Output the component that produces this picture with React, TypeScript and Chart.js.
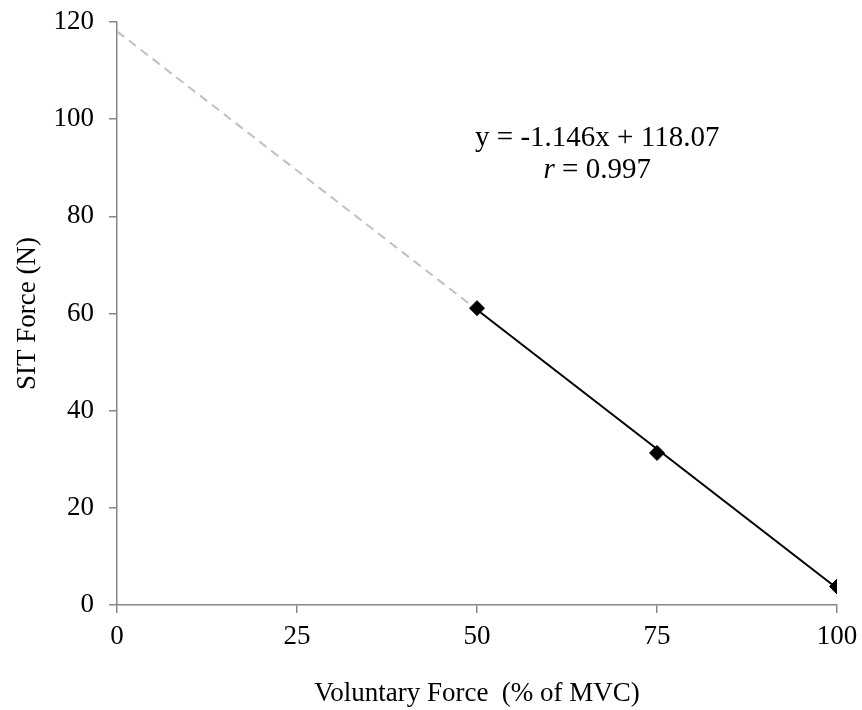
import React, { useEffect, useRef } from "react";
import { Chart, registerables } from "chart.js";

Chart.register(...registerables);

// ---- data ----
const voluntaryForce = [50, 75, 100];
const sitForce = [61.1, 31.3, 3.8];
const fitX = [50, 100];
const fitY = [60.77, 3.47];
const extensionX = [0, 50];
const extensionY = [118.07, 60.77];
const xTicks = [0, 25, 50, 75, 100];
const yTicks = [0, 20, 40, 60, 80, 100, 120];
const xTitle = "Voluntary Force  (% of MVC)";
const yTitle = "SIT Force (N)";
const equationText = "y = -1.146x + 118.07";
const rSymbol = "r";
const rValueText = " = 0.997";
// annotation anchor in data units
const equationAnchorX = 66.7;
const equationLine1Y = 96.1;
const equationLine2Y = 89.5;

const FONT = "'Liberation Serif', 'Times New Roman', serif";
const AXIS_COLOR = "#878787";

const equationPlugin = {
  id: "equationText",
  afterDatasetsDraw(chart: any) {
    const { ctx, scales } = chart;
    const xs = scales.x;
    const ys = scales.y;
    const cx = xs.getPixelForValue(equationAnchorX);
    const y1 = ys.getPixelForValue(equationLine1Y);
    const y2 = ys.getPixelForValue(equationLine2Y);
    ctx.save();
    ctx.fillStyle = "#000";
    ctx.textBaseline = "middle";
    ctx.font = `29px ${FONT}`;
    ctx.textAlign = "center";
    ctx.fillText(equationText, cx, y1);
    // second line: italic r + normal rest
    ctx.textAlign = "left";
    ctx.font = `italic 29px ${FONT}`;
    const wr = ctx.measureText(rSymbol).width;
    ctx.font = `29px ${FONT}`;
    const wrest = ctx.measureText(rValueText).width;
    const start = cx - (wr + wrest) / 2;
    ctx.font = `italic 29px ${FONT}`;
    ctx.fillText(rSymbol, start, y2);
    ctx.font = `29px ${FONT}`;
    ctx.fillText(rValueText, start + wr, y2);
    ctx.restore();
  },
};

export default function App() {
  const ref = useRef<HTMLCanvasElement>(null);

  useEffect(() => {
    if (!ref.current) return;
    const chart = new Chart(ref.current, {
      type: "scatter",
      data: {
        datasets: [
          {
            label: "Measured",
            data: voluntaryForce.map((x, i) => ({ x, y: sitForce[i] })),
            pointStyle: "rectRot",
            pointRadius: 7.5,
            pointHoverRadius: 7.5,
            backgroundColor: "#000",
            borderColor: "#000",
            borderWidth: 1,
            showLine: false,
          },
          {
            label: "Fit",
            data: fitX.map((x, i) => ({ x, y: fitY[i] })),
            showLine: true,
            borderColor: "#000",
            borderWidth: 2,
            pointRadius: 0,
            pointHoverRadius: 0,
          },
          {
            label: "Extension",
            data: extensionX.map((x, i) => ({ x, y: extensionY[i] })),
            showLine: true,
            borderColor: "#c0c0c0",
            borderWidth: 2,
            borderDash: [9, 6],
            pointRadius: 0,
            pointHoverRadius: 0,
          },
        ],
      },
      options: {
        animation: false,
        responsive: false,
        events: [],
        layout: { padding: { top: 22, right: 25, left: 0, bottom: 0 } },
        plugins: {
          legend: { display: false },
          tooltip: { enabled: false },
        },
        scales: {
          x: {
            type: "linear",
            min: 0,
            max: 100,
            afterBuildTicks: (s: any) => {
              s.ticks = xTicks.map((v) => ({ value: v }));
            },
            afterFit: (s: any) => {
              s.height = 105;
              s.paddingLeft = 0;
              s.paddingRight = 0;
            },
            grid: {
              drawOnChartArea: false,
              drawTicks: true,
              tickLength: 8,
              color: AXIS_COLOR,
              lineWidth: 1.5,
            },
            border: { display: true, color: AXIS_COLOR, width: 1.5 },
            ticks: {
              color: "#000",
              padding: 8,
              font: { family: FONT, size: 27 },
              maxRotation: 0,
            },
            title: {
              display: true,
              text: xTitle,
              color: "#000",
              font: { family: FONT, size: 27 },
              padding: { top: 2, bottom: 0 },
            },
          },
          y: {
            type: "linear",
            min: 0,
            max: 120,
            afterBuildTicks: (s: any) => {
              s.ticks = yTicks.map((v) => ({ value: v }));
            },
            afterFit: (s: any) => {
              s.width = 117;
              s.paddingTop = 0;
              s.paddingBottom = 0;
            },
            grid: {
              drawOnChartArea: false,
              drawTicks: true,
              tickLength: 8,
              color: AXIS_COLOR,
              lineWidth: 1.5,
            },
            border: { display: true, color: AXIS_COLOR, width: 1.5 },
            ticks: {
              color: "#000",
              padding: 15,
              font: { family: FONT, size: 27 },
            },
            title: {
              display: true,
              text: yTitle,
              color: "#000",
              font: { family: FONT, size: 27 },
              padding: { top: 12, bottom: 0 },
            },
          },
        },
      },
      plugins: [equationPlugin],
    });
    return () => chart.destroy();
  }, []);

  return (
    <div style={{ position: "fixed", left: 0, top: 0, width: 862, height: 710, background: "#fff" }}>
      <canvas ref={ref} width={862} height={710} style={{ display: "block" }} />
    </div>
  );
}
